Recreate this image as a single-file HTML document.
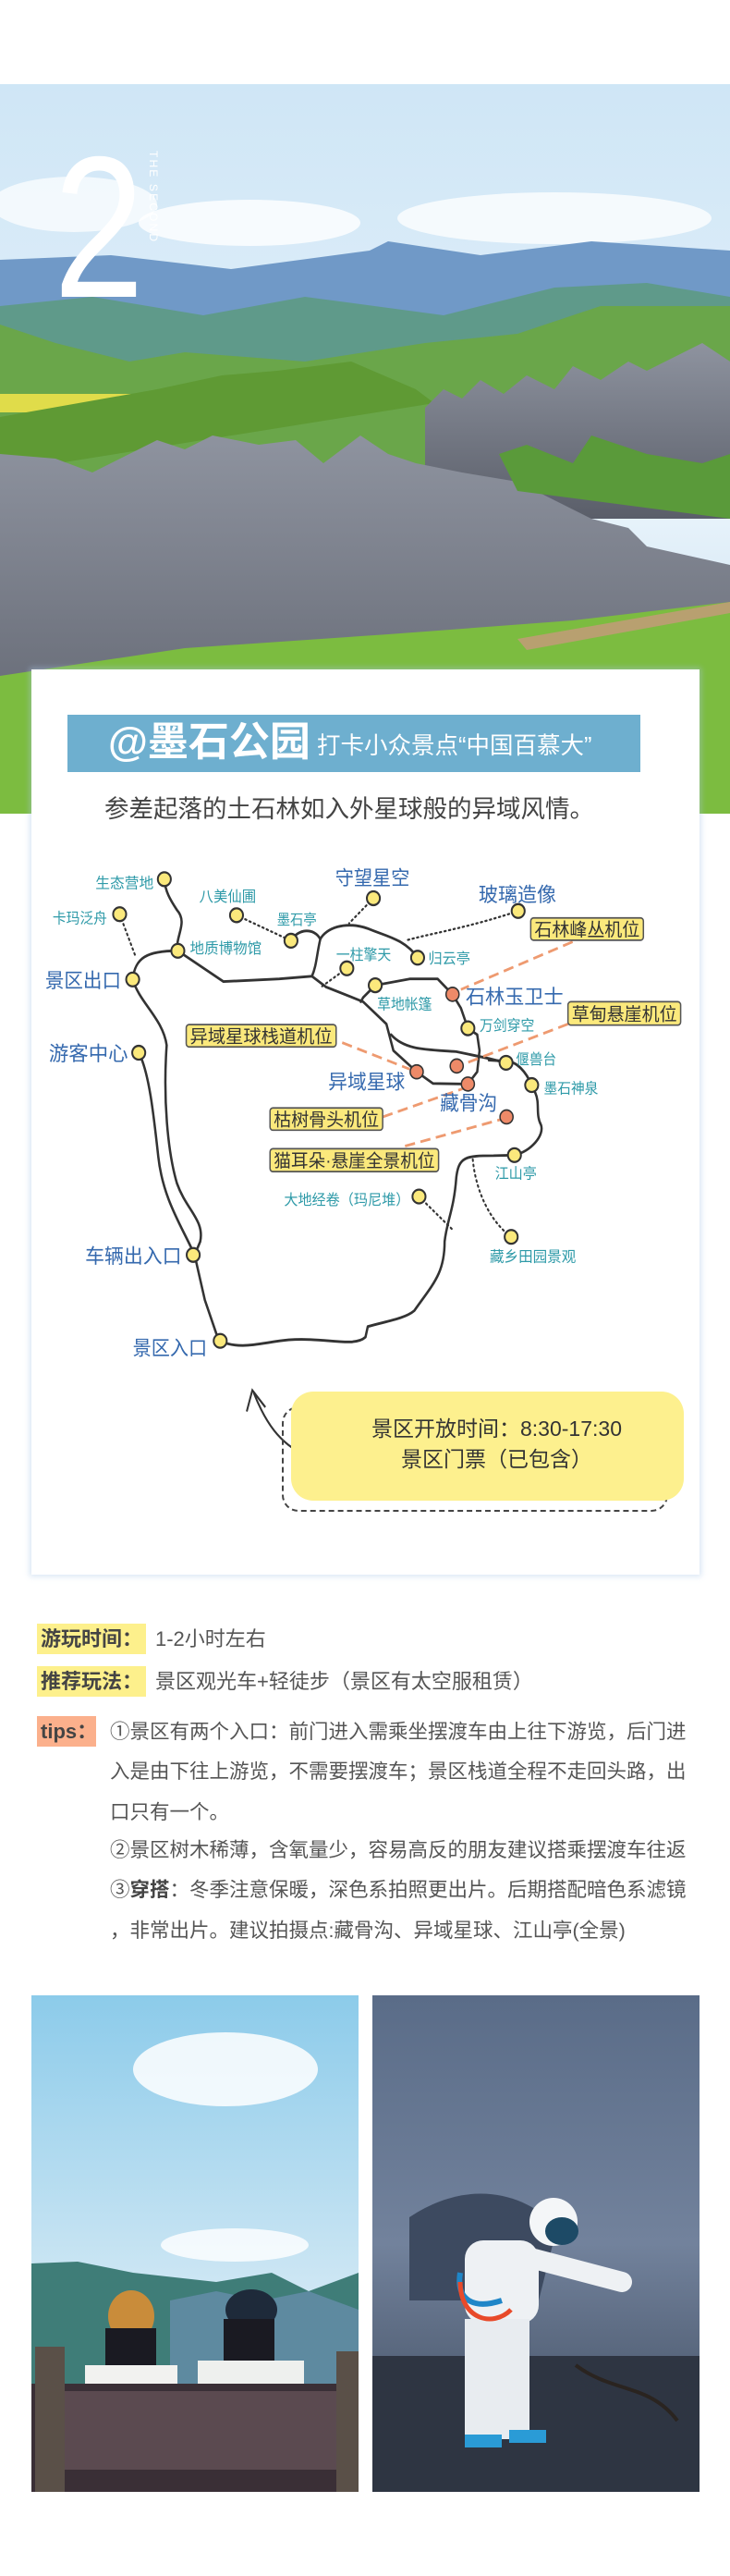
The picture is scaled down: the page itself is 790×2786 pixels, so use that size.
<!DOCTYPE html>
<html><head><meta charset="utf-8">
<style>
*{margin:0;padding:0;box-sizing:border-box}
body{width:790px;height:2786px;background:#fff;position:relative;overflow:hidden;font-family:"Liberation Sans","Noto Sans CJK SC",sans-serif}
.abs{position:absolute}
.card{left:34px;top:724px;width:723px;height:979px;background:#fff;box-shadow:0 0 6px 2px rgba(170,200,230,.45)}
.bar{left:73px;top:773px;width:620px;height:62px;background:#6eafcf;color:#fff;white-space:nowrap}
.hl{background:#fdf08c;color:#444;font-weight:bold;font-size:22px;line-height:33px;height:33px;padding-left:4px;white-space:nowrap}
.t{color:#555;font-size:21.5px;white-space:nowrap;line-height:43px;height:43px}
</style></head><body>

<svg class="abs" style="left:0;top:91px" width="790" height="789" viewBox="0 0 790 789">
<defs>
<linearGradient id="sky" x1="0" y1="0" x2="0" y2="1"><stop offset="0" stop-color="#cfe6f6"/><stop offset=".6" stop-color="#e6f2fa"/><stop offset="1" stop-color="#b7d3ec"/></linearGradient>
<linearGradient id="rk" x1="0" y1="0" x2="0" y2="1"><stop offset="0" stop-color="#8e939f"/><stop offset="1" stop-color="#5a5e69"/></linearGradient>
</defs>
<rect width="790" height="789" fill="url(#sky)"/>
<ellipse cx="270" cy="150" rx="120" ry="25" fill="#fff" opacity=".8"/>
<ellipse cx="600" cy="145" rx="170" ry="28" fill="#fff" opacity=".75"/>
<ellipse cx="80" cy="130" rx="90" ry="30" fill="#fff" opacity=".7"/>
<polygon points="0,190 120,185 250,200 400,180 420,170 520,185 640,170 790,180 790,300 0,300" fill="#7099c7"/>
<polygon points="0,240 100,230 220,250 330,230 480,250 600,220 700,215 790,230 790,330 0,330" fill="#5f9a8a"/>
<polygon points="0,260 60,280 140,300 200,290 330,300 460,280 560,270 650,240 790,240 790,420 0,420" fill="#6aa64a"/>
<rect x="0" y="335" width="185" height="20" fill="#e0dc4a"/>
<polygon points="170,330 240,315 300,310 380,300 450,330 470,345 0,420 0,360" fill="#5f9a34"/>
<polygon points="460,350 480,330 500,340 520,320 545,335 570,315 600,330 620,305 650,320 680,300 700,310 740,290 760,280 790,300 790,470 460,470" fill="url(#rk)"/>
<polygon points="0,400 60,405 100,420 170,385 200,395 230,380 280,390 320,385 350,410 390,380 420,400 450,410 500,420 560,430 600,450 640,470 680,480 700,500 790,520 790,789 0,789" fill="url(#rk)"/>
<polygon points="540,400 570,390 620,410 640,380 700,400 760,410 790,400 790,470 560,440" fill="#5a9a3a"/>
<polygon points="0,640 200,610 420,595 620,580 790,560 790,789 0,789" fill="#7cbc40"/>
<polygon points="560,600 790,560 790,572 570,612" fill="#b8a070"/>
<text x="58" y="230" font-family="Liberation Sans,sans-serif" font-size="218" font-weight="100" fill="#fff" textLength="98" lengthAdjust="spacingAndGlyphs">2</text>
<text transform="translate(162,72) rotate(90)" font-family="Liberation Sans,sans-serif" font-size="12" fill="#fff" letter-spacing="2" textLength="100">THE SECOND</text>
</svg>

<div class="abs card"></div>
<div class="abs bar"><span style="position:absolute;left:44px;top:2px;font-size:44px;font-weight:bold;line-height:56px">@墨石公园</span><span style="position:absolute;left:270px;top:14px;font-size:25.5px;line-height:40px">打卡小众景点“中国百慕大”</span></div>
<div class="abs" style="left:113px;top:858px;font-size:26.5px;color:#444;white-space:nowrap;line-height:34px">参差起落的土石林如入外星球般的异域风情。</div>

<svg class="abs" style="left:0;top:700px" width="790" height="900" viewBox="0 0 1568 1568" preserveAspectRatio="none" font-family="Liberation Sans,Noto Sans CJK SC,sans-serif">
<g fill="none" stroke="#333" stroke-width="5" stroke-linecap="round" stroke-linejoin="round">
<path d="M285,626 C290,585 315,572 382,572 L480,630 L600,625 L670,620 L700,640 L780,668 L830,710 L845,760 L895,800 L930,822 L1005,823 L1025,800 L1030,760 L1025,730 L1005,718 L990,680 L972,654 L940,625 L880,625 L806,637 L780,660 L775,668"/>
<path d="M285,626 C300,670 350,700 358,750 C350,850 360,950 380,1010 C400,1060 440,1080 430,1120 L418,1145 L440,1230 L470,1307 C520,1325 560,1310 620,1305 C700,1300 760,1320 785,1300 L790,1280 C830,1270 870,1265 890,1250 C930,1200 955,1180 955,1120 C960,1080 975,1060 980,1000 C985,960 1000,958 1060,958 L1105,957 C1140,950 1170,920 1162,900 C1150,880 1160,860 1150,840 L1142,825 C1130,800 1110,780 1087,780 L1050,778"/>
<path d="M298,764 C320,800 330,880 340,960 C350,1040 390,1090 418,1145"/>
<path d="M382,572 C375,545 405,520 380,495 C365,475 355,460 353,437"/>
<path d="M625,553 C640,530 675,528 688,550 C700,530 740,515 790,530 C830,545 870,550 897,585"/>
<path d="M688,550 C680,580 680,600 670,620"/>
<path d="M840,730 C870,760 920,758 980,762 L1050,775 L1087,783"/>
</g>
<g fill="none" stroke="#333" stroke-width="4" stroke-dasharray="3,7" stroke-linecap="round">
<path d="M257,503 L290,580"/><path d="M508,505 L625,553"/><path d="M802,473 L750,520"/>
<path d="M1113,497 C1000,530 920,540 870,553"/><path d="M745,605 L690,640"/>
<path d="M900,1035 L975,1100"/><path d="M1098,1111 C1050,1080 1020,1020 1015,960"/>
</g>
<g fill="none" stroke="#ee9a70" stroke-width="5" stroke-dasharray="22,12">
<path d="M1230,555 L990,645"/><path d="M1220,710 L985,789"/><path d="M735,745 L880,795"/>
<path d="M822,885 L1000,830"/><path d="M870,940 L1075,890"/>
</g>
<g fill="#fbe97c" stroke="#333" stroke-width="4">
<ellipse cx="353" cy="437" rx="14" ry="13"/><ellipse cx="257" cy="503" rx="14" ry="13"/><ellipse cx="508" cy="505" rx="14" ry="13"/>
<ellipse cx="625" cy="553" rx="14" ry="13"/><ellipse cx="802" cy="473" rx="14" ry="13"/><ellipse cx="1113" cy="497" rx="14" ry="13"/>
<ellipse cx="382" cy="572" rx="14" ry="13"/><ellipse cx="285" cy="626" rx="14" ry="13"/><ellipse cx="745" cy="605" rx="14" ry="13"/>
<ellipse cx="897" cy="585" rx="14" ry="13"/><ellipse cx="806" cy="637" rx="14" ry="13"/><ellipse cx="1005" cy="718" rx="14" ry="13"/>
<ellipse cx="298" cy="764" rx="14" ry="13"/><ellipse cx="1087" cy="783" rx="14" ry="13"/><ellipse cx="1142" cy="825" rx="14" ry="13"/>
<ellipse cx="1105" cy="957" rx="14" ry="13"/><ellipse cx="900" cy="1035" rx="14" ry="13"/><ellipse cx="1098" cy="1111" rx="14" ry="13"/>
<ellipse cx="415" cy="1145" rx="14" ry="13"/><ellipse cx="473" cy="1307" rx="14" ry="13"/>
</g>
<g fill="#ee8a68" stroke="#333" stroke-width="3">
<ellipse cx="972" cy="654" rx="14" ry="13"/><ellipse cx="895" cy="800" rx="14" ry="13"/><ellipse cx="981" cy="789" rx="14" ry="13"/>
<ellipse cx="1005" cy="823" rx="14" ry="13"/><ellipse cx="1088" cy="885" rx="14" ry="13"/>
</g>
<g fill="#fbe97c" stroke="#555" stroke-width="3">
<rect x="1140" y="510" width="242" height="42" rx="6"/><rect x="1220" y="668" width="242" height="44" rx="6"/>
<rect x="400" y="711" width="322" height="42" rx="6"/><rect x="580" y="868" width="242" height="42" rx="6"/>
<rect x="580" y="945" width="362" height="43" rx="6"/>
</g>
<g fill="#333" font-size="34">
<text x="1148" y="544" textLength="226" lengthAdjust="spacingAndGlyphs">石林峰丛机位</text>
<text x="1228" y="703" textLength="226" lengthAdjust="spacingAndGlyphs">草甸悬崖机位</text>
<text x="408" y="745" textLength="306" lengthAdjust="spacingAndGlyphs">异域星球栈道机位</text>
<text x="588" y="902" textLength="226" lengthAdjust="spacingAndGlyphs">枯树骨头机位</text>
<text x="588" y="979" textLength="346" lengthAdjust="spacingAndGlyphs">猫耳朵·悬崖全景机位</text>
</g>
<g fill="#2e9aa8" font-size="28">
<text x="205" y="454" textLength="125" lengthAdjust="spacingAndGlyphs">生态营地</text>
<text x="428" y="479" textLength="122" lengthAdjust="spacingAndGlyphs">八美仙圃</text>
<text x="113" y="520" textLength="117" lengthAdjust="spacingAndGlyphs">卡玛泛舟</text>
<text x="595" y="523" textLength="85" lengthAdjust="spacingAndGlyphs">墨石亭</text>
<text x="408" y="577" textLength="154" lengthAdjust="spacingAndGlyphs">地质博物馆</text>
<text x="722" y="589" textLength="118" lengthAdjust="spacingAndGlyphs">一柱擎天</text>
<text x="920" y="596" textLength="90" lengthAdjust="spacingAndGlyphs">归云亭</text>
<text x="810" y="682" textLength="118" lengthAdjust="spacingAndGlyphs">草地帐篷</text>
<text x="1030" y="722" textLength="118" lengthAdjust="spacingAndGlyphs">万剑穿空</text>
<text x="1108" y="786" textLength="87" lengthAdjust="spacingAndGlyphs">偃兽台</text>
<text x="1168" y="841" textLength="117" lengthAdjust="spacingAndGlyphs">墨石神泉</text>
<text x="1063" y="1001" textLength="90" lengthAdjust="spacingAndGlyphs">江山亭</text>
<text x="610" y="1051" textLength="270" lengthAdjust="spacingAndGlyphs">大地经卷（玛尼堆）</text>
<text x="1052" y="1158" textLength="185" lengthAdjust="spacingAndGlyphs">藏乡田园景观</text>
</g>
<g fill="#3569ae" font-size="38">
<text x="720" y="448" textLength="160" lengthAdjust="spacingAndGlyphs">守望星空</text>
<text x="1028" y="479" textLength="167" lengthAdjust="spacingAndGlyphs">玻璃造像</text>
<text x="97" y="641" textLength="163" lengthAdjust="spacingAndGlyphs">景区出口</text>
<text x="1000" y="672" textLength="210" lengthAdjust="spacingAndGlyphs">石林玉卫士</text>
<text x="105" y="779" textLength="170" lengthAdjust="spacingAndGlyphs">游客中心</text>
<text x="705" y="832" textLength="165" lengthAdjust="spacingAndGlyphs">异域星球</text>
<text x="945" y="872" textLength="123" lengthAdjust="spacingAndGlyphs">藏骨沟</text>
<text x="183" y="1160" textLength="207" lengthAdjust="spacingAndGlyphs">车辆出入口</text>
<text x="285" y="1334" textLength="160" lengthAdjust="spacingAndGlyphs">景区入口</text>
</g>
<path d="M655,1522 C600,1500 570,1460 545,1405" fill="none" stroke="#333" stroke-width="4"/>
<path d="M530,1440 L542,1400 L570,1432" fill="none" stroke="#333" stroke-width="4"/>
</svg>

<div class="abs" style="left:305px;top:1521px;width:418px;height:114px;border:2px dashed #444;border-radius:18px"></div>
<div class="abs" style="left:315px;top:1505px;width:425px;height:118px;background:#fdf08e;border-radius:24px;color:#333;font-size:23px;text-align:center;line-height:33px;padding-top:24px;padding-left:20px;white-space:nowrap">景区开放时间：8:30-17:30<br>景区门票（已包含）</div>

<div class="abs hl" style="left:40px;top:1756px;width:118px">游玩时间：</div>
<div class="abs" style="left:168px;top:1756px;font-size:22px;line-height:33px;color:#555;white-space:nowrap">1-2小时左右</div>
<div class="abs hl" style="left:40px;top:1802px;width:118px">推荐玩法：</div>
<div class="abs" style="left:168px;top:1802px;font-size:22px;line-height:33px;color:#555;white-space:nowrap">景区观光车+轻徒步（景区有太空服租赁）</div>
<div class="abs hl" style="left:40px;top:1856px;width:64px;background:#fbb08c">tips：</div>
<div class="abs t" style="left:119px;top:1852px">①景区有两个入口：前门进入需乘坐摆渡车由上往下游览，后门进</div>
<div class="abs t" style="left:119px;top:1895px">入是由下往上游览，不需要摆渡车；景区栈道全程不走回头路，出</div>
<div class="abs t" style="left:119px;top:1939px">口只有一个。</div>
<div class="abs t" style="left:119px;top:1980px">②景区树木稀薄，含氧量少，容易高反的朋友建议搭乘摆渡车往返</div>
<div class="abs t" style="left:119px;top:2023px">③<b style="color:#444">穿搭</b>：冬季注意保暖，深色系拍照更出片。后期搭配暗色系滤镜</div>
<div class="abs t" style="left:119px;top:2067px">，非常出片。建议拍摄点:藏骨沟、异域星球、江山亭(全景)</div>

<svg class="abs" style="left:34px;top:2158px" width="354" height="537" viewBox="0 0 354 537">
<defs><linearGradient id="s2" x1="0" y1="0" x2="0" y2="1"><stop offset="0" stop-color="#8ccbea"/><stop offset=".6" stop-color="#cfe7f4"/><stop offset="1" stop-color="#e8f3f8"/></linearGradient></defs>
<rect width="354" height="537" fill="url(#s2)"/>
<ellipse cx="210" cy="80" rx="100" ry="40" fill="#fff" opacity=".85"/>
<ellipse cx="220" cy="270" rx="80" ry="18" fill="#fff" opacity=".8"/>
<polygon points="0,290 50,288 110,300 200,310 260,300 300,320 354,300 354,537 0,537" fill="#3f7d78"/>
<polygon points="150,330 200,320 250,330 300,320 354,340 354,420 150,420" fill="#5e8aa0"/>
<ellipse cx="108" cy="347" rx="25" ry="28" fill="#c98c3a"/>
<rect x="80" y="360" width="55" height="80" fill="#1a1a22"/>
<rect x="58" y="400" width="100" height="70" fill="#f2f2f0"/>
<ellipse cx="238" cy="340" rx="28" ry="22" fill="#1e2a3a"/>
<rect x="208" y="350" width="55" height="70" fill="#1a1a22"/>
<rect x="180" y="395" width="115" height="75" fill="#eef0ee"/>
<rect x="0" y="420" width="354" height="117" fill="#3a2f36"/>
<rect x="30" y="428" width="310" height="85" fill="#5b4a50"/>
<rect x="4" y="380" width="32" height="157" fill="#5a5048"/>
<rect x="330" y="385" width="24" height="152" fill="#5a5048"/>
</svg>
<svg class="abs" style="left:403px;top:2158px" width="354" height="537" viewBox="0 0 354 537">
<defs><linearGradient id="r2" x1="0" y1="0" x2="0" y2="1"><stop offset="0" stop-color="#5a6c88"/><stop offset=".5" stop-color="#72829c"/><stop offset="1" stop-color="#3a4658"/></linearGradient></defs>
<rect width="354" height="537" fill="url(#r2)"/>
<path d="M40,240 C100,200 160,210 200,250 L180,330 L40,330 Z" fill="#3d4a60"/>
<rect x="0" y="390" width="354" height="147" fill="#2e3542"/>
<circle cx="196" cy="245" r="26" fill="#f4f6f8"/>
<ellipse cx="205" cy="255" rx="18" ry="15" fill="#1d4a66"/>
<rect x="100" y="265" width="80" height="90" rx="20" fill="#eef1f4"/>
<rect x="100" y="350" width="70" height="130" fill="#e8ecf0"/>
<path d="M175,285 L270,310" stroke="#eef1f4" stroke-width="22" stroke-linecap="round"/>
<path d="M95,300 C90,330 110,340 140,330" stroke="#1f86c8" stroke-width="6" fill="none"/>
<path d="M95,310 C95,350 130,360 150,340" stroke="#e84a2a" stroke-width="5" fill="none"/>
<rect x="100" y="475" width="40" height="14" fill="#2a9bd6"/>
<rect x="148" y="470" width="40" height="14" fill="#2a9bd6"/>
<path d="M220,400 C260,430 300,420 330,460" stroke="#2a2420" stroke-width="4" fill="none"/>
</svg>
</body></html>
